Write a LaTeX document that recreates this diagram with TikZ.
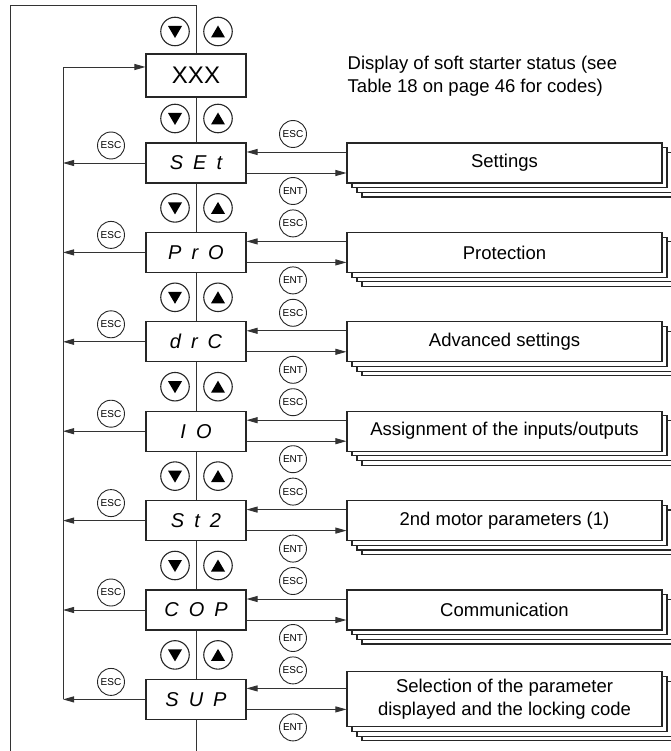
\documentclass[tikz,border=0pt]{standalone}
\usepackage{fontspec}
\setmainfont{Liberation Sans}
\usetikzlibrary{arrows.meta, shapes, positioning, shadows}
\newcommand{\segsp}{\hspace{10pt}}
\tikzset{
    displaybox/.style={rectangle, draw=black!85, fill=white, line width=1.1pt, minimum width=100pt, minimum height=40pt, inner sep=0pt, font=\fontsize{20}{20}\selectfont\itshape},
    menubox/.style={rectangle, draw=black!85, fill=white, line width=1.1pt, minimum width=315pt, inner sep=0pt, align=center, font=\fontsize{18.5}{22.5}\selectfont,
        copy shadow={shadow xshift=15pt, shadow yshift=-14pt, fill=white, draw=black!85, line width=1.1pt},
        copy shadow={shadow xshift=10pt, shadow yshift=-9.4pt, fill=white, draw=black!85, line width=1.1pt},
        copy shadow={shadow xshift=5pt, shadow yshift=-4.7pt, fill=white, draw=black!85, line width=1.1pt}},
    keynode/.style={circle, draw=black!85, fill=white, line width=0.9pt, minimum size=27pt, inner sep=0pt, font=\fontsize{10}{10}\selectfont},
    navkey/.style={circle, draw=black!85, fill=white, line width=1.1pt, minimum size=28.5pt, inner sep=0pt},
    downkey/.style={navkey, path picture={\fill[black] ([shift={(-7pt,5.5pt)}]path picture bounding box.center) -- ++(14pt,0pt) -- ++(-7pt,-12pt) -- cycle;}},
    upkey/.style={navkey, path picture={\fill[black] ([shift={(-7pt,-6pt)}]path picture bounding box.center) -- ++(14pt,0pt) -- ++(-7pt,12pt) -- cycle;}},
    arr/.style={-{Triangle[length=11pt,width=6pt]}, draw=black!80, line width=0.9pt}
}
\begin{document}
\begin{tikzpicture}[x=1pt, y=-1pt]
    \useasboundingbox (0,0) rectangle (670,751);
    % Outer loop and central line
    \coordinate (outerbl) at (10,751);
    \coordinate (outertl) at (10,5);
    \coordinate (centertop) at (196,5);
    \coordinate (centerbot) at (196,751);
    \coordinate (innertop) at (63,67);
    \draw[draw=black!80, line width=0.9pt] (outerbl) -- (outertl) -- (centertop) -- (centerbot);
    % Status display
    \node[displaybox, minimum height=43pt, font=\fontsize{24}{24}\selectfont] (d0) at (196,75.5) {XXX};
    \node[downkey] (dn0) at (175,31.5) {};
    \node[upkey] (up0) at (218,31.5) {};
    \node[anchor=north west, align=left, inner sep=0pt, font=\fontsize{18.5}{22.5}\selectfont] (status) at (347.5,56) {Display of soft starter status (see\\Table 18 on page 46 for codes)};
    % Menus
    \foreach \i/\code/\menu/\h in {
        1/{S\segsp E\segsp t}/Settings/40,
        2/{P\segsp r\segsp O}/Protection/40,
        3/{d\segsp r\segsp C}/{Advanced settings}/40,
        4/{I\segsp O}/{Assignment of the inputs/outputs}/40,
        5/{S\segsp t\segsp 2}/{2nd motor parameters (1)}/40,
        6/{C\segsp O\segsp P}/Communication/40,
        7/{S\segsp U\segsp P}/{Selection of the parameter\\displayed and the locking code}/55} {
        \pgfmathsetmacro{\yy}{163+89.4*(\i-1)}
        \node[displaybox] (d\i) at (196,\yy) {\code};
        \node[menubox, minimum height=\h pt] (m\i) at (504.5,\yy) {\menu};
        \node[downkey] (dn\i) at (175,\yy-44.5) {};
        \node[upkey] (up\i) at (218,\yy-44.5) {};
        \node[keynode] (escl\i) at (111,\yy-17.5) {ESC};
        \node[keynode] (escr\i) at (293,\yy-29) {ESC};
        \node[keynode] (ent\i) at (293,\yy+28) {ENT};
        \draw[arr] (d\i.west) -- (d\i.west -| innertop);
        \draw[arr] ([yshift=11pt]m\i.west) -- ([yshift=11pt]m\i.west -| d\i.east);
        \draw[arr] ([yshift=-10pt]d\i.east) -- ([yshift=-10pt]d\i.east -| m\i.west);
    }
    % Return loop
    \draw[draw=black!80, line width=0.9pt] (innertop |- d7.west) -- (innertop);
    \draw[arr] (innertop) -- (innertop -| d0.west);
\end{tikzpicture}
\end{document}
